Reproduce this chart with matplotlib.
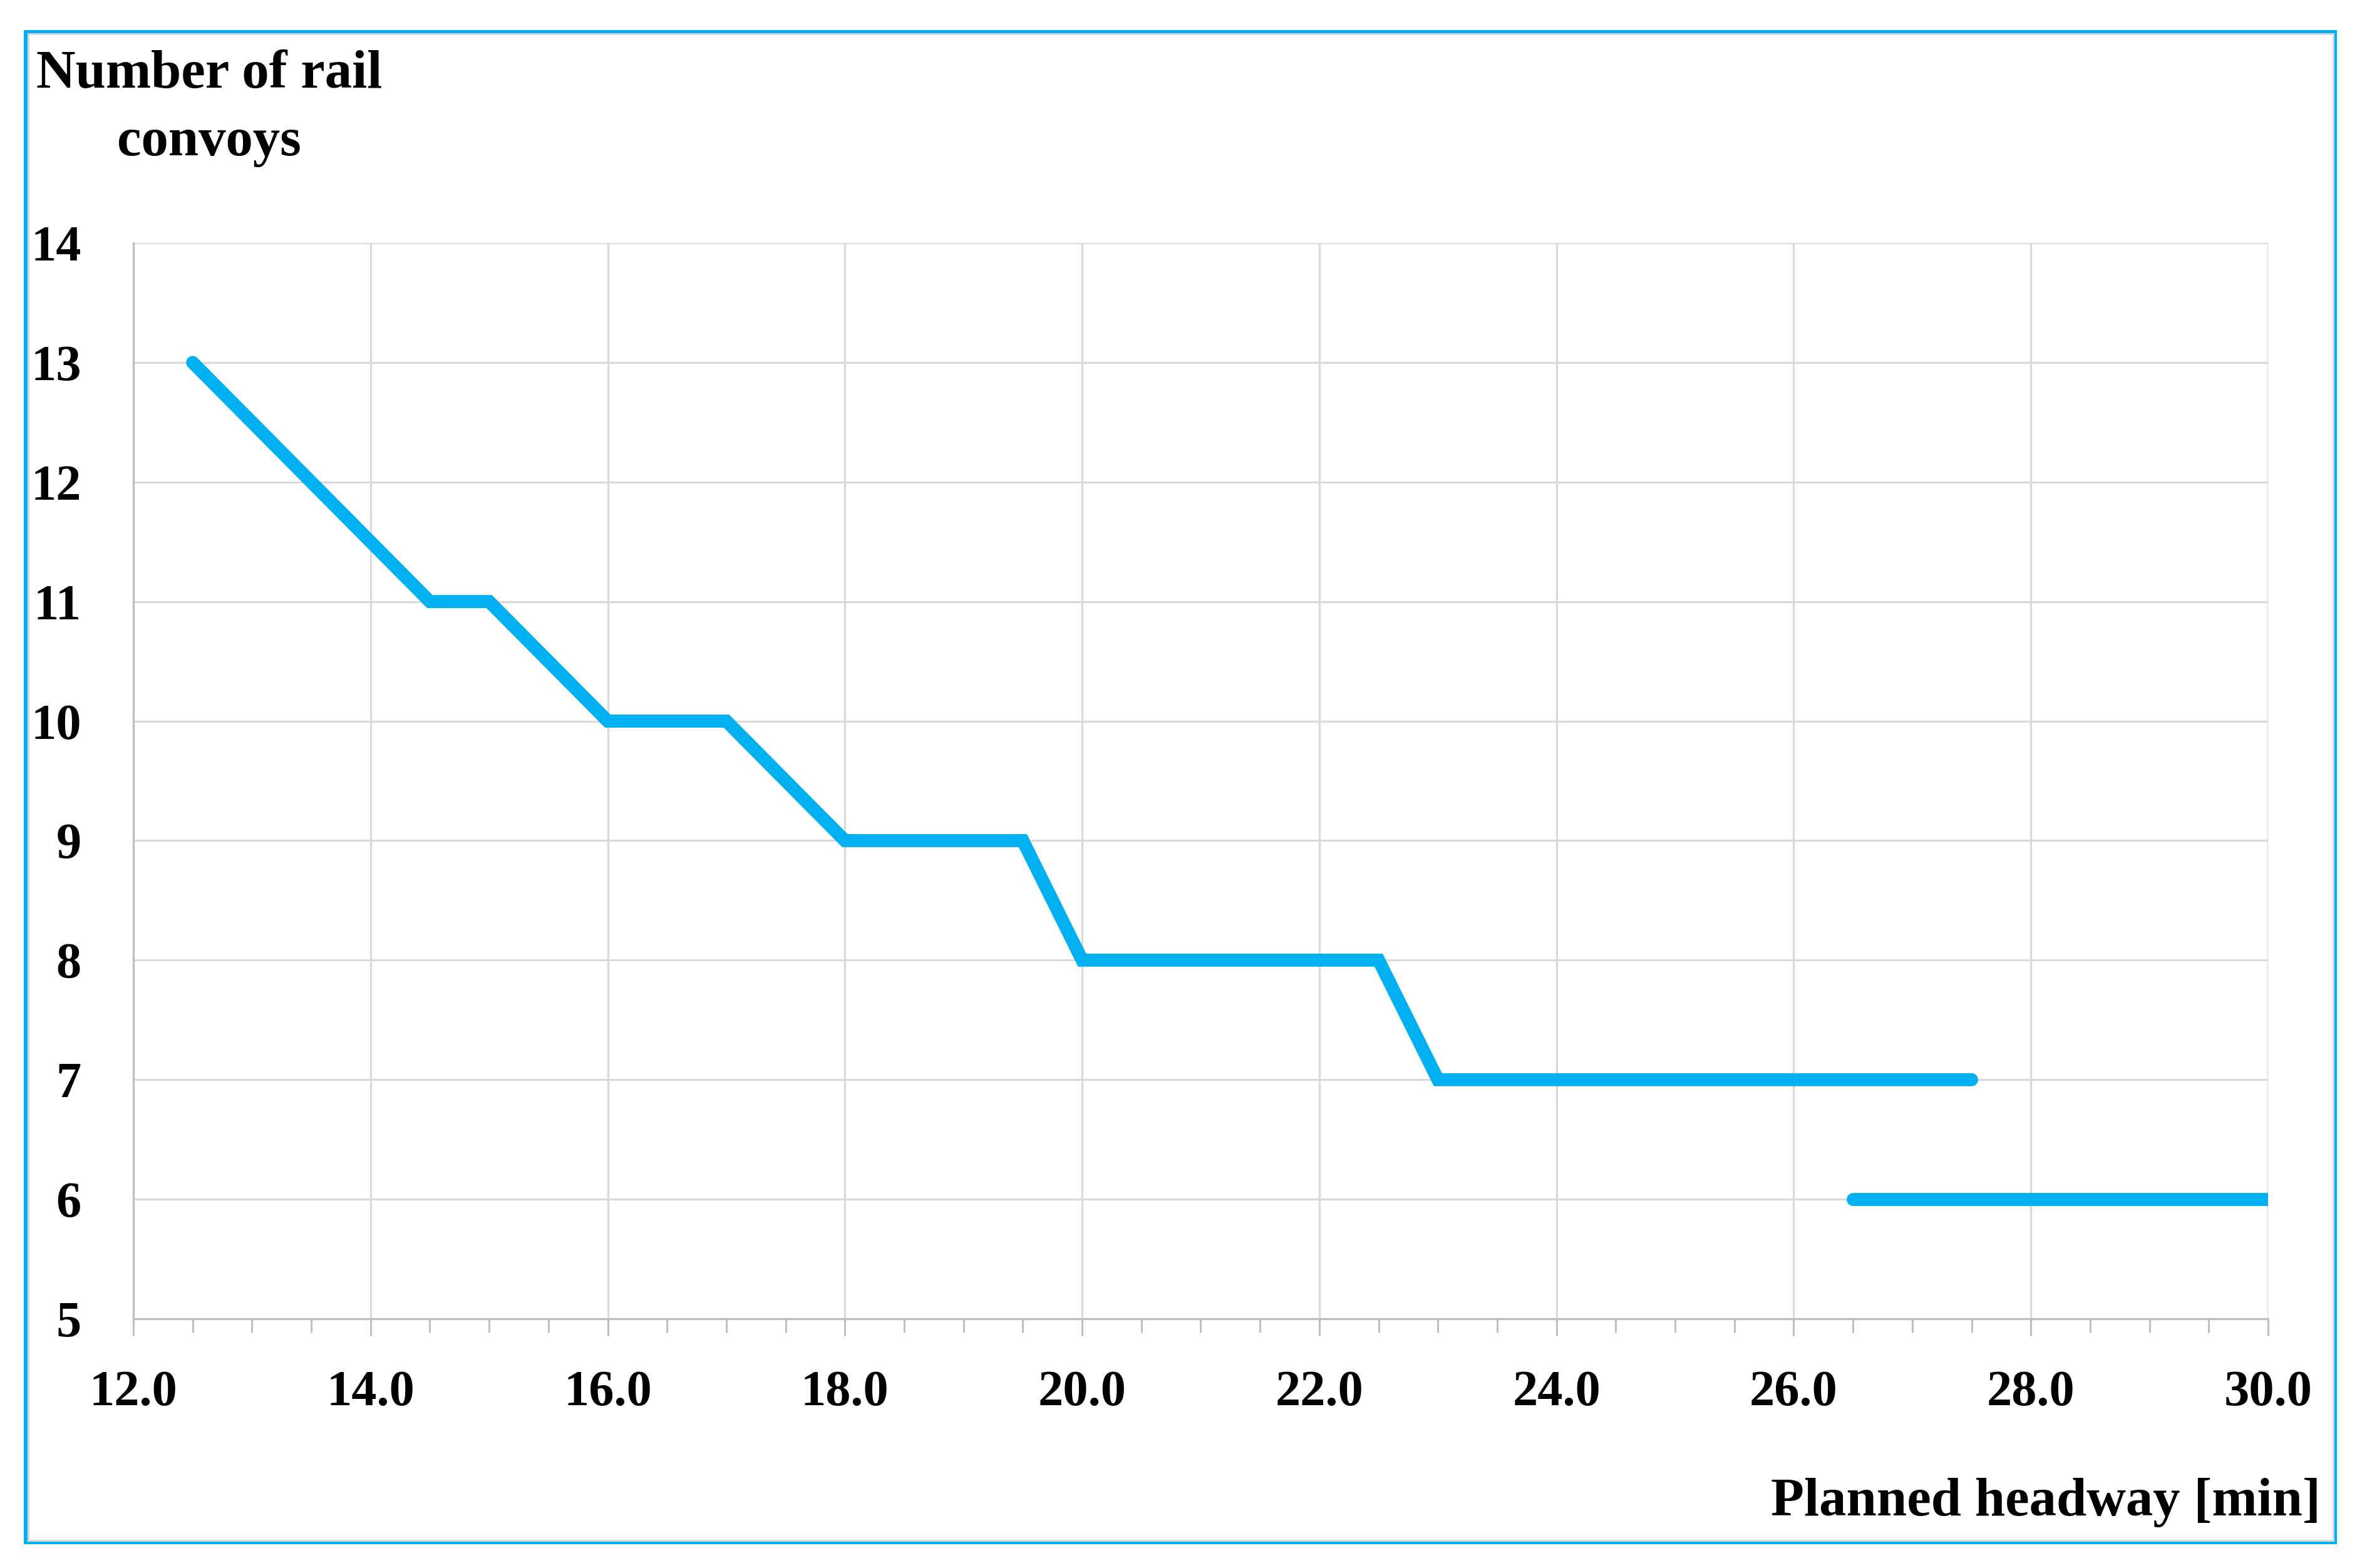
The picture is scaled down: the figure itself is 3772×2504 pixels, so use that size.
import matplotlib.pyplot as plt
from matplotlib.patches import Rectangle
from matplotlib.ticker import MultipleLocator, FormatStrFormatter

# Data
headway_a = [12.5, 14.5, 15.0, 16.0, 17.0, 18.0, 19.5, 20.0, 22.5, 23.0, 27.5]
convoys_a = [13, 11, 11, 10, 10, 9, 9, 8, 8, 7, 7]
headway_b = [26.5, 30.0]
convoys_b = [6, 6]

x_ticks = [12.0, 14.0, 16.0, 18.0, 20.0, 22.0, 24.0, 26.0, 28.0, 30.0]
y_ticks = [5, 6, 7, 8, 9, 10, 11, 12, 13, 14]

BLUE = '#00B0F0'
GRID = '#D9D9D9'
AXIS = '#BFBFBF'

plt.rcParams['font.family'] = ['Liberation Serif', 'DejaVu Serif']
plt.rcParams['font.weight'] = 'bold'

fig = plt.figure(figsize=(37.72, 25.04), dpi=100)
ax = fig.add_axes([0.05647, 0.15895, 0.90376, 0.6861])

ax.plot(headway_a, convoys_a, color=BLUE, lw=15, solid_capstyle='round',
        solid_joinstyle='miter', zorder=3)
ax.plot(headway_b, convoys_b, color=BLUE, lw=15, solid_capstyle='round', zorder=3)

ax.set_xlim(12, 30)
ax.set_ylim(5, 14)
ax.set_xticks(x_ticks)
ax.set_yticks(y_ticks)
ax.xaxis.set_major_formatter(FormatStrFormatter('%.1f'))
ax.xaxis.set_minor_locator(MultipleLocator(0.5))

ax.grid(True, which='major', color=GRID, lw=2.2, zorder=0)
for s in ['top', 'right']:
    ax.spines[s].set_visible(False)
for s in ['left', 'bottom']:
    ax.spines[s].set_color(AXIS)
    ax.spines[s].set_linewidth(2.4)

ax.tick_params(axis='x', which='major', length=19.4, width=2.2, color=AXIS,
               pad=40, labelsize=58)
ax.tick_params(axis='x', which='minor', length=15.8, width=2.2, color=AXIS)
ax.tick_params(axis='y', which='major', length=0, pad=60, labelsize=58)

# axis titles
fig.text(0.0885, 0.944, 'Number of rail', ha='center', va='baseline',
         fontsize=62.5, fontweight='bold')
fig.text(0.0885, 0.901, 'convoys', ha='center', va='baseline',
         fontsize=62.5, fontweight='bold')
fig.text(0.9825, 0.0335, 'Planned headway [min]', ha='right', va='baseline',
         fontsize=62.5, fontweight='bold')

# outer frame
fig.patches.append(Rectangle((0.0109, 0.0163), 0.9778, 0.9635, transform=fig.transFigure,
                             fill=False, ec=BLUE, lw=4.3, zorder=5))
fig.patches.append(Rectangle((0.0118, 0.0177), 0.9760, 0.9607, transform=fig.transFigure,
                             fill=False, ec=GRID, lw=2.2, zorder=5))

fig.savefig('out.png', dpi=100)
